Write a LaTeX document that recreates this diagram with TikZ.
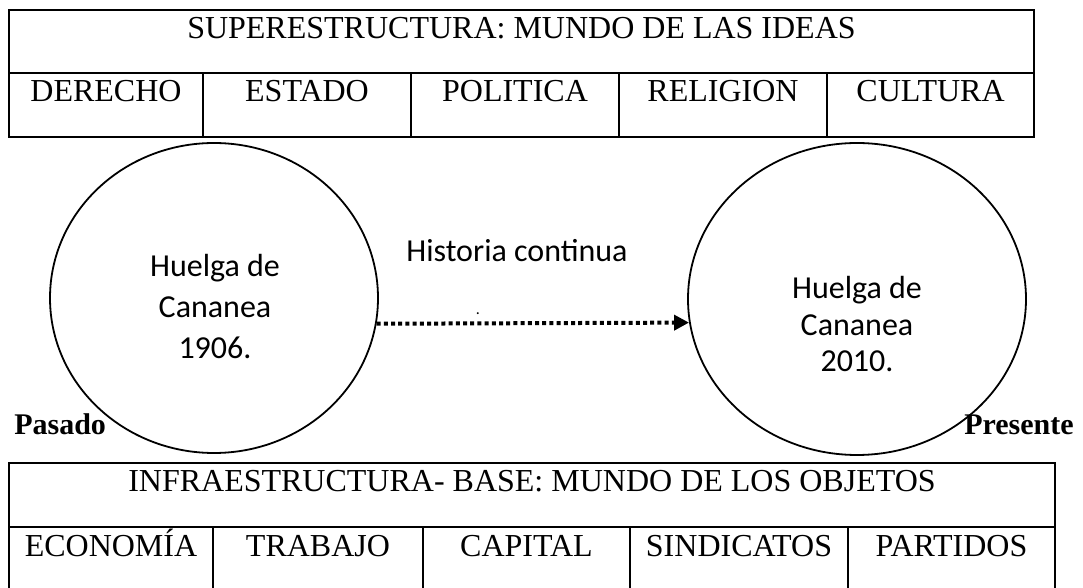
\documentclass[tikz,border=0pt]{standalone}
\usepackage{fontspec}
\setmainfont{Liberation Serif}
\newfontfamily\calibfont{Carlito}
\usetikzlibrary{arrows.meta,shapes.geometric}

\begin{document}
\begin{tikzpicture}[x=0.5pt,y=-0.5pt,line width=1.3pt]
  \tikzset{celltxt/.style={anchor=base,inner sep=0pt,font=\fontsize{16}{16}\selectfont},
    sanstxt/.style={align=center,inner sep=0pt,anchor=north},
    timelab/.style={anchor=base,inner sep=0pt,font=\fontsize{15}{15}\selectfont\bfseries},
    strikering/.style={draw,ellipse,line width=0.9pt,inner sep=0pt}}
  \useasboundingbox (0,0) rectangle (1083,588);
  \draw (9,10) rectangle (1034,137);
  \draw (9,73) -- (1034,73);
  \foreach \cx in {203,411,619,827} \draw (\cx,73) -- (\cx,137);
  \draw (9,588) -- (9,463) -- (1055,463) -- (1055,588);
  \draw (9,527) -- (1055,527);
  \foreach \cx in {213,423,630,848} \draw (\cx,527) -- (\cx,588);
  \node[celltxt] (supra) at (521.5,39) {SUPERESTRUCTURA: MUNDO DE LAS IDEAS};
  \node[celltxt] (derecho) at (106,102) {DERECHO};
  \node[celltxt] (estado) at (307,102) {ESTADO};
  \node[celltxt] (politica) at (515,102) {POLITICA};
  \node[celltxt] (religion) at (723,102) {RELIGION};
  \node[celltxt] (cultura) at (930.5,102) {CULTURA};
  \node[celltxt] (infra) at (532,492) {INFRAESTRUCTURA- BASE: MUNDO DE LOS OBJETOS};
  \node[celltxt] (economia) at (111,557) {ECONOMÍA};
  \node[celltxt] (trabajo) at (318,557) {TRABAJO};
  \node[celltxt] (capital) at (526.5,557) {CAPITAL};
  \node[celltxt] (sindicatos) at (739,557) {SINDICATOS};
  \node[celltxt] (partidos) at (951.5,557) {PARTIDOS};
  \node[strikering,minimum width=164pt,minimum height=155pt] (huelga1906) at (214,298) {};
  \node[strikering,minimum width=169pt,minimum height=156pt] (huelga2010) at (857,299) {};
  \node[sanstxt,font=\calibfont\fontsize{16}{20.5}\selectfont] (txt1906) at (215,253) {Huelga de\\Cananea\\1906.};
  \node[sanstxt,font=\calibfont\fontsize{16}{18.3}\selectfont] (txt2010) at (857,275) {Huelga de\\Cananea\\2010.};
  \node[anchor=base,inner sep=0pt,font=\calibfont\fontsize{16}{16}\selectfont] (historia) at (517,262) {Historia continua};
  \node[anchor=base,inner sep=0pt,font=\calibfont\fontsize{8}{8}\selectfont] (punto) at (478,315) {.};
  \draw[line width=2pt,dash pattern=on 2pt off 1.6pt,-{Triangle[length=7.5pt,width=7.5pt]}] (huelga1906.-9.5) -- (huelga2010.188.85);
  \node[timelab,anchor=base west] (pasado) at (13,435) {Pasado};
  \node[timelab,anchor=base east] (presente) at (1075,435) {Presente};
\end{tikzpicture}
\end{document}
